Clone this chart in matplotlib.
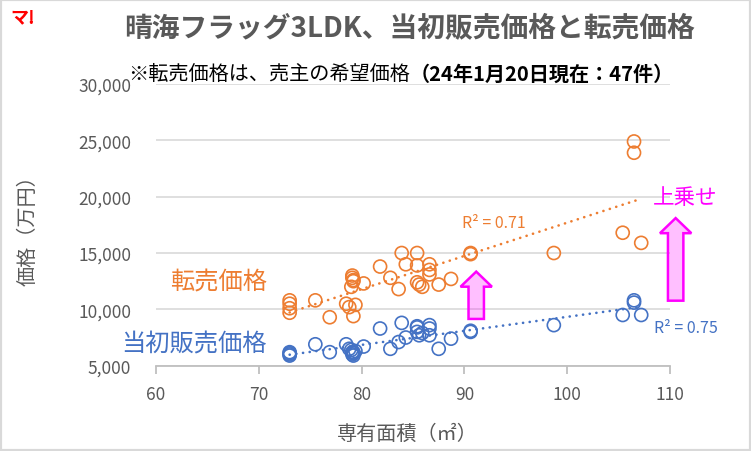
import numpy as np
import matplotlib
matplotlib.use("Agg")
import matplotlib.pyplot as plt
from matplotlib.patches import FancyArrow, Rectangle

plt.rcParams['font.family'] = ['Noto Sans CJK JP', 'DejaVu Sans']

# 専有面積 (㎡), 当初販売価格 (万円), 転売価格 (万円)
area = [73.0, 73.0, 73.0, 73.0, 75.5, 76.9, 78.5, 78.8, 79.2, 79.4,
        79.1, 79.1, 79.2, 79.2, 79.0, 80.2, 81.8, 82.8, 83.6, 83.9,
        84.3, 85.4, 85.4, 85.4, 85.6, 85.9, 86.6, 86.6, 86.6, 87.5,
        88.7, 90.6, 90.6, 98.7, 105.4, 107.2, 106.5, 106.5]
initial_price = [6200, 6000, 5900, 6100, 6900, 6200, 6900, 6500, 5900, 6300,
                 6200, 6000, 6100, 6200, 6400, 6700, 8300, 6500, 7100, 8800,
                 7500, 8500, 8400, 8000, 7700, 7900, 8600, 8300, 7700, 6500,
                 7400, 8100, 8000, 8600, 9500, 9500, 10800, 10600]
resale_price = [10800, 10500, 10100, 9700, 10800, 9300, 10500, 10200, 9400, 10400,
                13000, 12800, 12600, 12500, 12000, 12300, 13800, 12800, 11800, 15000,
                14000, 15000, 13900, 12400, 12200, 12000, 14000, 13500, 13100, 12200,
                12700, 15000, 14900, 15000, 16800, 15900, 24900, 23900]

xticks = [60, 70, 80, 90, 100, 110]
yticks = [5000, 10000, 15000, 20000, 25000, 30000]

ORANGE = '#ED7D31'
BLUE = '#4472C4'
GRAY = '#595959'
MAGENTA = '#FF00FF'

W, H = 751, 452
fig = plt.figure(figsize=(W / 100, H / 100), dpi=100)
ax = fig.add_axes([156 / W, 1 - 366.7 / H, (670 - 156) / W, (366.7 - 85) / H])

def fx(px):
    return px / W

def fy(py):
    return 1 - py / H

# points
ax.scatter(area, resale_price, s=88, facecolors='none', edgecolors=ORANGE, linewidths=1.2, zorder=3)
ax.scatter(area, initial_price, s=88, facecolors='none', edgecolors=BLUE, linewidths=1.2, zorder=3)

# trend lines (linear)
xs = np.array([min(area), max(area)])
for ys, c in [(resale_price, ORANGE), (initial_price, BLUE)]:
    k, b = np.polyfit(area, ys, 1)
    ax.plot(xs, k * xs + b, color=c, lw=1.9, linestyle=(0, (0.05, 2.5)),
            dash_capstyle='round', zorder=2)

ax.set_xlim(60, 110)
ax.set_ylim(5000, 30000)
ax.set_xticks(xticks)
ax.set_yticks(yticks)
ax.set_yticklabels([f"{v:,}" for v in yticks])
ax.tick_params(axis='x', colors='#BFBFBF', length=6, width=1.3, direction='out',
               labelcolor=GRAY, labelsize=12.5, pad=8)
ax.tick_params(axis='y', length=0, labelcolor=GRAY, labelsize=12.5, pad=18)
ax.grid(axis='y', color='#D9D9D9', lw=1.2)
ax.set_axisbelow(True)
for s in ['top', 'right', 'left']:
    ax.spines[s].set_visible(False)
ax.spines['bottom'].set_color('#BFBFBF')
ax.spines['bottom'].set_linewidth(1.3)

# arrows (上乗せ)
for xc, y0, y1 in [(91.15, 9150, 13350), (110.55, 10770, 18100)]:
    arr = FancyArrow(xc, y0, 0, y1 - y0, width=1.5, head_width=3.05, head_length=1340,
                     length_includes_head=True, facecolor=(1, 0, 1, 0.25),
                     edgecolor=MAGENTA, lw=1.8, clip_on=False, zorder=4)
    ax.add_patch(arr)

# texts
fig.text(fx(23), fy(18), "マ!", color='#FF0000', fontsize=13, fontweight='bold',
         ha='center', va='center')
fig.text(fx(410), fy(28), "晴海フラッグ3LDK、当初販売価格と転売価格", color=GRAY,
         fontsize=20, fontweight='bold', ha='center', va='center')
t1 = fig.text(fx(128), fy(74), "※転売価格は、売主の希望価格", color='black',
              fontsize=14.5, ha='left', va='center')
ax.annotate("（24年1月20日現在：47件）", xy=(1, 0.5), xycoords=t1, color='black',
            fontsize=14.5, fontweight='bold', ha='left', va='center')

fig.text(fx(28), fy(226), "価格（万円）", color=GRAY, fontsize=14.5, rotation=90,
         ha='center', va='center')
fig.text(fx(407), fy(434), "専有面積（㎡）", color=GRAY, fontsize=14.5,
         ha='center', va='center')

fig.text(fx(219), fy(283), "転売価格", color=ORANGE, fontsize=17.5, ha='center', va='center')
fig.text(fx(194), fy(345), "当初販売価格", color=BLUE, fontsize=17.5, ha='center', va='center')
fig.text(fx(494), fy(223), "R² = 0.71", color=ORANGE, fontsize=11.5, ha='center', va='center')
fig.text(fx(686), fy(329), "R² = 0.75", color=BLUE, fontsize=11.5, ha='center', va='center')
fig.text(fx(685), fy(198), "上乗せ", color=MAGENTA, fontsize=15.5, ha='center', va='center')

# frame
fig.patches.append(Rectangle((0, 0), 1, 1, transform=fig.transFigure, fill=False,
                             edgecolor='#D9D9D9', lw=3, zorder=10))

fig.savefig("out.png", dpi=100)
